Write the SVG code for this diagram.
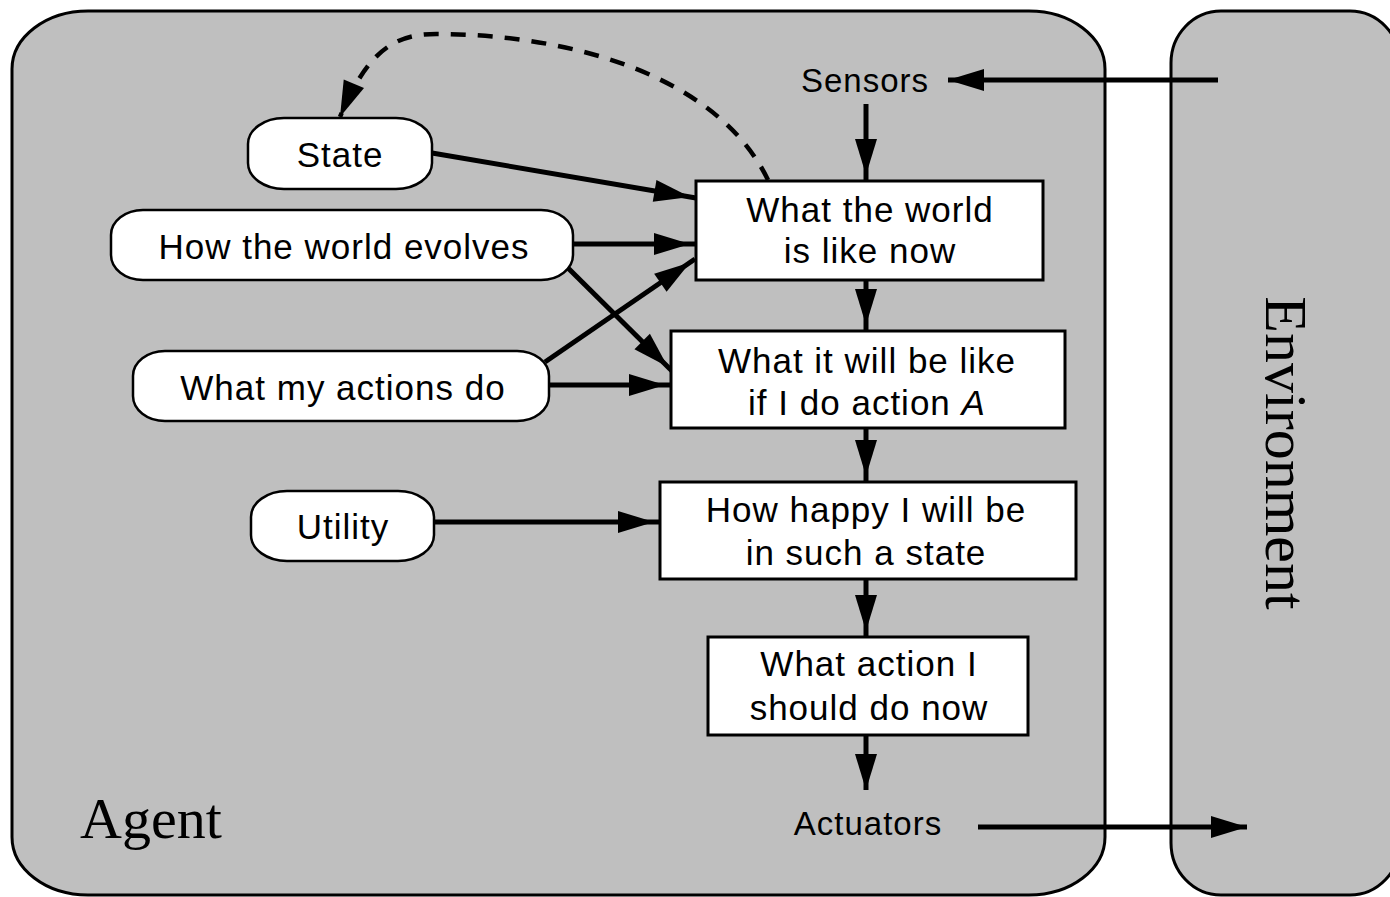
<svg xmlns="http://www.w3.org/2000/svg" width="1390" height="897" viewBox="0 0 1390 897">
<style>
.frame{fill:#bfbfbf;stroke:#000;stroke-width:3}
.box{fill:#fff;stroke:#000;stroke-width:3}
.oval{fill:#fff;stroke:#000;stroke-width:2.5}
.lbl{font-family:"Liberation Sans",Arial,sans-serif;font-size:35px;letter-spacing:1px;text-anchor:middle;fill:#000}
.io{font-family:"Liberation Sans",Arial,sans-serif;font-size:33px;letter-spacing:1px;text-anchor:middle;fill:#000}
.big{font-family:"Liberation Serif","Times New Roman",serif;fill:#000}
.conn{fill:none;stroke:#000;stroke-width:5}
.dash{fill:none;stroke:#000;stroke-width:4.5;stroke-dasharray:15 12}
</style>
<defs>
<marker id="ah" markerUnits="userSpaceOnUse" viewBox="-40 -12 46 24" markerWidth="46" markerHeight="24" refX="0" refY="0" orient="auto">
<path d="M0,0 L-36,-11 L-36,11 Z" fill="#000"/>
</marker>
<marker id="ahb" markerUnits="userSpaceOnUse" viewBox="-40 -12 46 24" markerWidth="46" markerHeight="24" refX="6" refY="0" orient="auto">
<path d="M0,0 L-36,-11 L-36,11 Z" fill="#000"/>
</marker>
</defs>
<rect width="1390" height="897" fill="#fff"/>
<g id="agent">
<rect class="frame" x="12" y="11" width="1093" height="884" rx="76" ry="58"/>
<text class="big" x="80" y="838" font-size="58">Agent</text>
</g>
<g id="environment">
<rect class="frame" x="1171" y="11" width="229" height="884" rx="50" ry="52"/>
<text class="big" font-size="60" text-anchor="middle" transform="translate(1266,453) rotate(90)">Environment</text>
</g>
<g id="connectors">
<path class="dash" d="M768,180 C720,80 580,35 440,34 C395,33 368,50 340,117" marker-end="url(#ah)"/>
<line class="conn" x1="1218" y1="80" x2="948" y2="80" marker-end="url(#ah)"/>
<line class="conn" x1="866" y1="104" x2="866" y2="181" marker-end="url(#ahb)"/>
<line class="conn" x1="866" y1="280" x2="866" y2="331" marker-end="url(#ahb)"/>
<line class="conn" x1="866" y1="428" x2="866" y2="482" marker-end="url(#ahb)"/>
<line class="conn" x1="866" y1="579" x2="866" y2="637" marker-end="url(#ahb)"/>
<line class="conn" x1="866" y1="735" x2="866" y2="790" marker-end="url(#ah)"/>
<line class="conn" x1="978" y1="827" x2="1247" y2="827" marker-end="url(#ah)"/>
<line class="conn" x1="432" y1="153" x2="696" y2="198" marker-end="url(#ahb)"/>
<line class="conn" x1="573" y1="244" x2="696" y2="244" marker-end="url(#ahb)"/>
<line class="conn" x1="567" y1="267" x2="672" y2="371" marker-end="url(#ahb)"/>
<line class="conn" x1="545" y1="362" x2="695" y2="259" marker-end="url(#ahb)"/>
<line class="conn" x1="550" y1="385" x2="671" y2="385" marker-end="url(#ahb)"/>
<line class="conn" x1="434" y1="522" x2="660" y2="522" marker-end="url(#ahb)"/>
</g>
<g id="sensors"><text class="io" x="865" y="92">Sensors</text></g>
<g id="actuators"><text class="io" x="868" y="835">Actuators</text></g>
<g id="state">
<rect class="oval" x="248" y="118" width="184" height="71" rx="36" ry="26"/>
<text class="lbl" x="340" y="167">State</text>
</g>
<g id="world-evolves">
<rect class="oval" x="111" y="210" width="462" height="70" rx="32" ry="25"/>
<text class="lbl" x="344" y="259">How the world evolves</text>
</g>
<g id="actions-do">
<rect class="oval" x="133" y="351" width="416" height="70" rx="32" ry="25"/>
<text class="lbl" x="343" y="400">What my actions do</text>
</g>
<g id="utility">
<rect class="oval" x="251" y="491" width="183" height="70" rx="36" ry="26"/>
<text class="lbl" x="343" y="539">Utility</text>
</g>
<g id="world-now">
<rect class="box" x="696" y="181" width="347" height="99"/>
<text class="lbl" x="870" y="222">What the world</text>
<text class="lbl" x="870" y="263">is like now</text>
</g>
<g id="will-be-like">
<rect class="box" x="671" y="331" width="394" height="97"/>
<text class="lbl" x="867" y="373">What it will be like</text>
<text class="lbl" x="867" y="415">if I do action <tspan font-style="italic">A</tspan></text>
</g>
<g id="how-happy">
<rect class="box" x="660" y="482" width="416" height="97"/>
<text class="lbl" x="866" y="522">How happy I will be</text>
<text class="lbl" x="866" y="565">in such a state</text>
</g>
<g id="what-action">
<rect class="box" x="708" y="637" width="320" height="98"/>
<text class="lbl" x="869" y="676">What action I</text>
<text class="lbl" x="869" y="720">should do now</text>
</g>
</svg>
